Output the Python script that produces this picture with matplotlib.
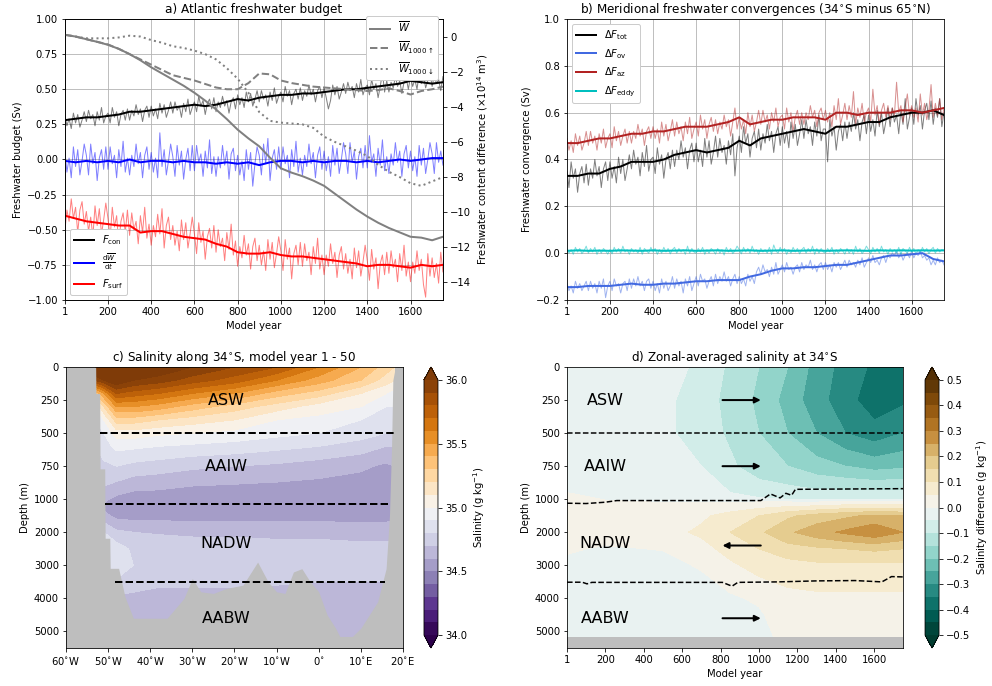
import numpy as np
import matplotlib
matplotlib.use('Agg')
import matplotlib.pyplot as plt

# ---------------- data ----------------
# panel a/b: raw annual-ish series (every 10 yr) and smoothed series (every 50 yr)
yr_raw = np.r_[1, np.arange(10, 1751, 10)]
yr_smooth = np.r_[1, np.arange(50, 1751, 50)]

F_con_raw = [0.31, 0.24, 0.29, 0.22, 0.33, 0.26, 0.32, 0.23, 0.28, 0.34,
             0.27, 0.35, 0.29, 0.32, 0.24, 0.34, 0.28, 0.37, 0.26, 0.31,
             0.33, 0.26, 0.37, 0.30, 0.34, 0.24, 0.32, 0.35, 0.28, 0.36,
             0.28, 0.35, 0.31, 0.39, 0.32, 0.36, 0.27, 0.35, 0.38, 0.30,
             0.38, 0.31, 0.36, 0.29, 0.40, 0.33, 0.39, 0.30, 0.35, 0.41,
             0.33, 0.41, 0.35, 0.38, 0.30, 0.40, 0.34, 0.43, 0.32, 0.37,
             0.41, 0.34, 0.45, 0.38, 0.42, 0.32, 0.40, 0.43, 0.36, 0.44,
             0.34, 0.41, 0.37, 0.45, 0.38, 0.42, 0.33, 0.41, 0.44, 0.36,
             0.46, 0.39, 0.44, 0.37, 0.48, 0.41, 0.47, 0.38, 0.43, 0.49,
             0.41, 0.49, 0.43, 0.46, 0.38, 0.48, 0.42, 0.51, 0.40, 0.45,
             0.48, 0.41, 0.52, 0.45, 0.49, 0.39, 0.47, 0.50, 0.43, 0.51,
             0.42, 0.49, 0.45, 0.53, 0.46, 0.50, 0.41, 0.49, 0.52, 0.44,
             0.51, 0.44, 0.36, 0.42, 0.53, 0.46, 0.52, 0.43, 0.48, 0.54,
             0.47, 0.55, 0.49, 0.52, 0.44, 0.54, 0.48, 0.57, 0.46, 0.51,
             0.53, 0.46, 0.57, 0.50, 0.54, 0.44, 0.52, 0.62, 0.48, 0.56,
             0.48, 0.55, 0.51, 0.59, 0.52, 0.56, 0.47, 0.55, 0.58, 0.50,
             0.59, 0.52, 0.57, 0.50, 0.61, 0.54, 0.60, 0.51, 0.56, 0.62,
             0.52, 0.60, 0.54, 0.57, 0.49, 0.59]
dWdt_raw = [0.05, -0.09, 0.01, -0.13, 0.09, -0.05, 0.07, -0.11, -0.01, 0.11,
            0.03, -0.11, 0.11, -0.03, 0.05, -0.15, 0.01, 0.07, -0.07, 0.09,
            -0.07, 0.09, -0.03, 0.03, -0.13, 0.07, -0.05, 0.13, -0.09, 0.01,
            -0.11, 0.03, -0.05, 0.11, -0.03, 0.05, -0.13, 0.03, 0.09, -0.07,
            0.05, -0.09, 0.01, -0.13, 0.19, -0.05, 0.07, -0.11, -0.01, 0.11,
            0.02, -0.12, 0.10, -0.04, 0.06, -0.14, 0.00, 0.08, -0.08, 0.10,
            -0.08, 0.10, -0.02, 0.04, -0.12, 0.06, -0.06, 0.14, -0.10, 0.02,
            -0.12, 0.02, -0.06, 0.10, -0.04, 0.06, -0.14, 0.04, 0.08, -0.08,
            0.03, -0.11, -0.01, -0.15, 0.07, -0.07, 0.05, -0.19, -0.03, 0.09,
            0.03, -0.11, 0.11, -0.03, 0.15, -0.15, 0.01, 0.07, -0.07, 0.09,
            -0.07, 0.09, -0.03, 0.03, -0.13, 0.07, -0.05, 0.13, -0.09, 0.01,
            -0.11, 0.03, -0.05, 0.11, -0.03, 0.05, -0.13, 0.03, 0.09, -0.07,
            0.06, -0.08, 0.02, -0.12, 0.10, -0.04, 0.08, -0.10, 0.00, 0.12,
            0.04, -0.10, 0.12, -0.02, 0.06, -0.14, 0.02, 0.08, -0.06, 0.10,
            -0.06, 0.17, -0.02, 0.04, -0.12, 0.08, -0.04, 0.14, -0.08, 0.02,
            -0.10, 0.04, -0.04, 0.12, -0.02, 0.06, -0.12, 0.04, 0.10, -0.06,
            0.06, -0.08, 0.02, -0.12, 0.10, -0.04, 0.08, -0.10, 0.00, 0.12,
            0.04, -0.10, 0.12, -0.02, 0.06, -0.04]
F_surf_raw = [-0.50, -0.36, -0.44, -0.28, -0.42, -0.34, -0.52, -0.36, -0.30, -0.46,
              -0.37, -0.51, -0.41, -0.55, -0.33, -0.47, -0.35, -0.53, -0.43, -0.31,
              -0.42, -0.56, -0.34, -0.48, -0.40, -0.60, -0.44, -0.38, -0.52, -0.36,
              -0.54, -0.38, -0.50, -0.44, -0.60, -0.40, -0.52, -0.34, -0.56, -0.46,
              -0.61, -0.47, -0.55, -0.39, -0.53, -0.35, -0.63, -0.47, -0.41, -0.57,
              -0.47, -0.61, -0.51, -0.65, -0.43, -0.57, -0.45, -0.63, -0.53, -0.41,
              -0.53, -0.67, -0.45, -0.59, -0.51, -0.71, -0.55, -0.49, -0.63, -0.47,
              -0.66, -0.50, -0.62, -0.56, -0.72, -0.52, -0.64, -0.46, -0.68, -0.58,
              -0.76, -0.62, -0.70, -0.54, -0.68, -0.60, -0.78, -0.62, -0.56, -0.72,
              -0.61, -0.75, -0.65, -0.79, -0.57, -0.71, -0.59, -0.77, -0.67, -0.55,
              -0.65, -0.79, -0.57, -0.71, -0.63, -0.85, -0.67, -0.61, -0.75, -0.59,
              -0.76, -0.60, -0.72, -0.66, -0.82, -0.62, -0.74, -0.56, -0.78, -0.68,
              -0.82, -0.68, -0.76, -0.60, -0.74, -0.66, -0.84, -0.68, -0.62, -0.78,
              -0.67, -0.81, -0.71, -0.85, -0.63, -0.77, -0.65, -0.83, -0.73, -0.61,
              -0.72, -0.86, -0.64, -0.78, -0.70, -0.92, -0.74, -0.68, -0.82, -0.66,
              -0.81, -0.65, -0.77, -0.71, -0.87, -0.67, -0.79, -0.61, -0.83, -0.73,
              -0.87, -0.73, -0.81, -0.65, -0.79, -0.71, -0.89, -0.98, -0.67, -0.83,
              -0.70, -0.84, -0.74, -0.88, -0.66, -0.80]

F_con = [0.28, 0.29, 0.30, 0.30, 0.31, 0.32, 0.34, 0.34, 0.35, 0.36, 0.37, 0.38,
         0.39, 0.38, 0.39, 0.41, 0.43, 0.42, 0.44, 0.45, 0.46, 0.46, 0.47, 0.47,
         0.48, 0.49, 0.50, 0.50, 0.51, 0.52, 0.53, 0.54, 0.56, 0.55, 0.54, 0.55]
dWdt = [-0.01, -0.02, -0.01, -0.02, -0.01, -0.02, 0.0, -0.02, -0.01, -0.01, -0.02, -0.01,
        -0.02, -0.02, -0.03, -0.02, -0.03, -0.02, -0.04, -0.02, -0.01, -0.01, -0.02, -0.01,
        -0.02, -0.01, -0.01, -0.02, -0.01, -0.02, -0.01, 0.0, -0.01, 0.0, 0.01, 0.01]
F_surf = [-0.40, -0.42, -0.44, -0.45, -0.46, -0.47, -0.47, -0.52, -0.51, -0.51, -0.53, -0.55,
          -0.56, -0.57, -0.60, -0.62, -0.66, -0.67, -0.67, -0.66, -0.68, -0.69, -0.69, -0.70,
          -0.71, -0.72, -0.73, -0.74, -0.76, -0.75, -0.75, -0.76, -0.77, -0.75, -0.76, -0.75]

W_tot = [0.1, 0.0, -0.15, -0.3, -0.47, -0.7, -1.0, -1.35, -1.75, -2.1, -2.45, -2.8,
         -3.2, -3.65, -4.15, -4.7, -5.3, -5.8, -6.25, -6.9, -7.5, -7.75, -7.95, -8.2,
         -8.5, -8.95, -9.4, -9.85, -10.25, -10.6, -10.9, -11.15, -11.4, -11.45, -11.6, -11.4]
W_up = [0.1, 0.0, -0.15, -0.3, -0.45, -0.7, -1.0, -1.3, -1.6, -1.9, -2.2, -2.35,
        -2.5, -2.7, -2.9, -3.0, -3.0, -2.65, -2.1, -2.15, -2.5, -2.65, -2.75, -2.85,
        -2.9, -2.95, -3.0, -3.05, -3.1, -3.05, -2.95, -3.1, -3.3, -3.1, -3.0, -2.85]
W_down = [0.1, 0.0, -0.1, -0.1, -0.1, -0.05, 0.05, 0.0, -0.2, -0.35, -0.55, -0.65,
          -0.8, -1.0, -1.3, -1.8, -2.4, -3.2, -4.3, -4.8, -4.9, -4.95, -5.0, -5.2,
          -5.7, -6.0, -6.25, -6.5, -6.8, -7.3, -7.7, -8.0, -8.35, -8.5, -8.25, -8.0]

tot_raw = [0.35, 0.28, 0.39, 0.32, 0.36, 0.26, 0.34, 0.37, 0.30, 0.38,
           0.29, 0.36, 0.32, 0.40, 0.33, 0.37, 0.28, 0.36, 0.39, 0.31,
           0.39, 0.32, 0.37, 0.30, 0.41, 0.34, 0.40, 0.31, 0.36, 0.42,
           0.36, 0.44, 0.38, 0.41, 0.33, 0.43, 0.37, 0.46, 0.35, 0.40,
           0.41, 0.34, 0.45, 0.38, 0.42, 0.32, 0.40, 0.43, 0.36, 0.44,
           0.37, 0.44, 0.40, 0.48, 0.41, 0.45, 0.36, 0.44, 0.47, 0.39,
           0.47, 0.39, 0.44, 0.37, 0.49, 0.41, 0.48, 0.38, 0.43, 0.50,
           0.41, 0.49, 0.43, 0.46, 0.38, 0.48, 0.42, 0.51, 0.33, 0.45,
           0.50, 0.43, 0.54, 0.47, 0.51, 0.41, 0.49, 0.52, 0.45, 0.53,
           0.44, 0.51, 0.47, 0.55, 0.48, 0.52, 0.43, 0.51, 0.54, 0.46,
           0.54, 0.47, 0.52, 0.45, 0.56, 0.49, 0.55, 0.46, 0.51, 0.57,
           0.49, 0.57, 0.51, 0.54, 0.46, 0.56, 0.50, 0.59, 0.48, 0.53,
           0.53, 0.39, 0.57, 0.50, 0.54, 0.44, 0.52, 0.55, 0.48, 0.56,
           0.49, 0.56, 0.52, 0.60, 0.53, 0.57, 0.48, 0.56, 0.59, 0.51,
           0.59, 0.52, 0.57, 0.50, 0.61, 0.54, 0.60, 0.51, 0.56, 0.62,
           0.54, 0.62, 0.56, 0.59, 0.51, 0.61, 0.55, 0.66, 0.53, 0.58,
           0.62, 0.55, 0.66, 0.59, 0.63, 0.53, 0.61, 0.64, 0.57, 0.65,
           0.55, 0.62, 0.58, 0.66, 0.54, 0.60]
az_raw = [0.49, 0.44, 0.48, 0.43, 0.51, 0.46, 0.50, 0.44, 0.47, 0.52,
          0.46, 0.52, 0.47, 0.50, 0.44, 0.51, 0.47, 0.53, 0.45, 0.49,
          0.51, 0.45, 0.54, 0.48, 0.52, 0.46, 0.50, 0.53, 0.47, 0.52,
          0.47, 0.52, 0.49, 0.55, 0.50, 0.53, 0.46, 0.52, 0.54, 0.49,
          0.54, 0.49, 0.53, 0.47, 0.56, 0.50, 0.55, 0.48, 0.52, 0.57,
          0.50, 0.56, 0.51, 0.54, 0.48, 0.56, 0.51, 0.58, 0.49, 0.53,
          0.56, 0.50, 0.59, 0.53, 0.57, 0.49, 0.55, 0.58, 0.52, 0.57,
          0.51, 0.56, 0.53, 0.59, 0.54, 0.57, 0.50, 0.56, 0.62, 0.53,
          0.58, 0.53, 0.57, 0.51, 0.60, 0.54, 0.59, 0.52, 0.56, 0.61,
          0.55, 0.61, 0.56, 0.59, 0.53, 0.60, 0.56, 0.62, 0.54, 0.58,
          0.59, 0.53, 0.62, 0.56, 0.60, 0.52, 0.58, 0.61, 0.55, 0.60,
          0.55, 0.60, 0.57, 0.63, 0.58, 0.61, 0.54, 0.60, 0.62, 0.57,
          0.61, 0.56, 0.60, 0.54, 0.63, 0.57, 0.66, 0.55, 0.59, 0.64,
          0.57, 0.63, 0.58, 0.69, 0.55, 0.62, 0.58, 0.64, 0.56, 0.60,
          0.62, 0.56, 0.70, 0.59, 0.63, 0.55, 0.61, 0.64, 0.58, 0.63,
          0.57, 0.62, 0.59, 0.73, 0.60, 0.63, 0.56, 0.62, 0.68, 0.59,
          0.63, 0.58, 0.62, 0.56, 0.68, 0.59, 0.64, 0.57, 0.61, 0.72,
          0.58, 0.64, 0.59, 0.66, 0.57, 0.62]
ov_raw = [-0.13, -0.16, -0.14, -0.17, -0.12, -0.15, -0.13, -0.16, -0.14, -0.12,
          -0.16, -0.12, -0.15, -0.13, -0.17, -0.12, -0.15, -0.11, -0.19, -0.14,
          -0.12, -0.16, -0.11, -0.14, -0.13, -0.17, -0.13, -0.12, -0.16, -0.11,
          -0.15, -0.11, -0.14, -0.10, -0.14, -0.12, -0.16, -0.12, -0.11, -0.15,
          -0.12, -0.16, -0.13, -0.17, -0.11, -0.15, -0.12, -0.16, -0.14, -0.10,
          -0.15, -0.11, -0.14, -0.12, -0.17, -0.11, -0.14, -0.10, -0.16, -0.13,
          -0.10, -0.14, -0.09, -0.12, -0.11, -0.15, -0.12, -0.10, -0.14, -0.09,
          -0.13, -0.10, -0.12, -0.08, -0.12, -0.10, -0.14, -0.11, -0.09, -0.13,
          -0.10, -0.13, -0.11, -0.14, -0.09, -0.12, -0.10, -0.13, -0.08, -0.06,
          -0.09, -0.05, -0.08, -0.07, -0.10, -0.06, -0.09, -0.04, -0.09, -0.07,
          -0.05, -0.08, -0.04, -0.07, -0.06, -0.09, -0.06, -0.05, -0.08, -0.04,
          -0.07, -0.05, -0.06, -0.03, -0.07, -0.05, -0.08, -0.05, -0.04, -0.07,
          -0.04, -0.07, -0.05, -0.08, -0.04, -0.06, -0.04, -0.07, -0.05, -0.03,
          -0.06, -0.03, -0.05, -0.04, -0.06, -0.03, -0.05, -0.02, -0.06, -0.04,
          -0.02, -0.04, -0.01, -0.04, -0.03, -0.05, -0.02, -0.01, -0.04, -0.01,
          -0.02, 0.00, -0.01, 0.01, -0.02, 0.00, -0.03, -0.01, 0.00, -0.02,
          0.01, -0.02, 0.00, -0.01, 0.01, -0.02, -0.01, -0.03, -0.02, -0.05,
          -0.03, -0.05, -0.02, -0.04, -0.03, -0.05]
eddy_raw = [0.02, 0.0, 0.015, -0.005, 0.025, 0.005, 0.02, -0.002, 0.01, 0.03,
            0.0, 0.02, 0.005, 0.025, -0.005, 0.015, 0.0, 0.02, 0.01, -0.004,
            0.015, -0.003, 0.025, 0.005, 0.02, 0.0, 0.03, 0.005, 0.015, -0.005,
            0.02, 0.005, 0.015, 0.0, 0.025, -0.005, 0.02, 0.01, 0.0, 0.025,
            0.005, 0.02, -0.005, 0.015, 0.0, 0.025, 0.005, 0.02, -0.003, 0.015,
            0.025, 0.0, 0.02, 0.005, 0.015, -0.005, 0.03, 0.0, 0.02, 0.005,
            0.0, 0.02, 0.005, 0.025, -0.005, 0.015, 0.0, 0.02, 0.01, -0.004,
            0.02, 0.0, 0.015, -0.008, 0.025, 0.005, 0.02, -0.002, 0.01, 0.03,
            0.015, -0.003, 0.025, 0.005, 0.02, 0.0, 0.03, 0.005, 0.015, -0.005,
            0.02, 0.005, 0.015, 0.0, 0.025, -0.005, 0.035, 0.01, 0.0, 0.025,
            0.005, 0.02, -0.005, 0.015, 0.0, 0.025, 0.005, 0.02, -0.003, 0.015,
            0.025, 0.0, 0.02, 0.005, 0.03, -0.005, 0.02, 0.0, 0.02, 0.005,
            0.0, 0.02, 0.005, 0.025, -0.005, 0.015, 0.0, 0.02, 0.01, -0.004,
            0.02, 0.0, 0.015, -0.005, 0.03, 0.005, 0.02, -0.002, 0.01, 0.03,
            0.015, -0.003, 0.025, 0.005, 0.02, 0.0, 0.03, 0.005, 0.015, -0.005,
            0.02, 0.005, 0.015, 0.0, 0.025, -0.005, 0.02, 0.01, 0.0, 0.025,
            0.005, 0.02, -0.005, 0.015, 0.0, 0.025, 0.005, 0.02, -0.003, 0.015,
            0.025, 0.0, 0.02, 0.005, 0.015, 0.01]

tot = [0.33, 0.33, 0.34, 0.34, 0.36, 0.37, 0.39, 0.39, 0.39, 0.40, 0.42, 0.43,
       0.44, 0.43, 0.44, 0.45, 0.48, 0.46, 0.49, 0.50, 0.51, 0.52, 0.53, 0.52,
       0.51, 0.54, 0.54, 0.55, 0.56, 0.56, 0.58, 0.59, 0.60, 0.60, 0.61, 0.59]
az = [0.47, 0.47, 0.48, 0.49, 0.49, 0.50, 0.51, 0.51, 0.52, 0.52, 0.53, 0.54,
      0.54, 0.54, 0.55, 0.56, 0.58, 0.55, 0.56, 0.57, 0.57, 0.58, 0.58, 0.58,
      0.57, 0.60, 0.60, 0.59, 0.60, 0.60, 0.60, 0.61, 0.61, 0.60, 0.61, 0.62]
ov = [-0.145, -0.145, -0.14, -0.14, -0.14, -0.135, -0.13, -0.135, -0.135, -0.13, -0.13, -0.125,
      -0.12, -0.12, -0.115, -0.115, -0.115, -0.10, -0.09, -0.075, -0.065, -0.065, -0.06, -0.06,
      -0.055, -0.05, -0.05, -0.04, -0.03, -0.02, -0.01, -0.01, -0.005, 0.0, -0.025, -0.035]
eddy = [0.01, 0.012, 0.01, 0.011, 0.01, 0.012, 0.011, 0.01, 0.012, 0.01, 0.011, 0.012,
        0.01, 0.011, 0.012, 0.01, 0.011, 0.012, 0.01, 0.011, 0.012, 0.01, 0.011, 0.012,
        0.01, 0.011, 0.012, 0.011, 0.01, 0.012, 0.011, 0.012, 0.011, 0.012, 0.011, 0.012]

# panel c: salinity section at 34S (g/kg), rows = depth, cols = lon
lon_c = [-53, -51, -48, -44, -38, -30, -20, -10, 0, 10, 16, 18]
depth_c = [0, 100, 200, 300, 400, 500, 600, 750, 900, 1000, 1250, 1500,
           2000, 2500, 3000, 3500, 4000, 5000, 5500]
salt_c = [
    [36.2, 36.2, 36.2, 36.2, 36.1, 36.0, 35.9, 35.8, 35.6, 35.4, 35.25, 35.2],
    [35.9, 36.0, 36.1, 36.0, 35.95, 35.85, 35.75, 35.6, 35.45, 35.3, 35.15, 35.1],
    [35.3, 35.5, 35.8, 35.75, 35.7, 35.6, 35.5, 35.35, 35.25, 35.1, 35.0, 34.95],
    [35.0, 35.2, 35.5, 35.5, 35.45, 35.35, 35.25, 35.15, 35.05, 35.0, 34.9, 34.9],
    [34.9, 35.0, 35.25, 35.25, 35.2, 35.15, 35.1, 35.0, 34.97, 34.9, 34.85, 34.85],
    [34.85, 34.9, 35.05, 35.05, 35.02, 35.0, 34.97, 34.93, 34.9, 34.85, 34.8, 34.8],
    [34.8, 34.85, 34.93, 34.92, 34.9, 34.88, 34.86, 34.83, 34.8, 34.75, 34.7, 34.7],
    [34.75, 34.78, 34.8, 34.77, 34.75, 34.72, 34.7, 34.68, 34.65, 34.62, 34.58, 34.6],
    [34.68, 34.7, 34.67, 34.63, 34.62, 34.6, 34.59, 34.58, 34.57, 34.55, 34.53, 34.55],
    [34.62, 34.62, 34.57, 34.55, 34.55, 34.55, 34.54, 34.54, 34.53, 34.52, 34.52, 34.55],
    [34.6, 34.58, 34.52, 34.52, 34.52, 34.52, 34.52, 34.52, 34.52, 34.52, 34.52, 34.55],
    [34.65, 34.63, 34.57, 34.56, 34.56, 34.56, 34.56, 34.56, 34.56, 34.56, 34.56, 34.58],
    [34.8, 34.8, 34.72, 34.7, 34.69, 34.68, 34.68, 34.67, 34.67, 34.66, 34.66, 34.66],
    [34.9, 34.9, 34.85, 34.78, 34.76, 34.75, 34.75, 34.74, 34.74, 34.73, 34.73, 34.73],
    [34.9, 34.9, 34.88, 34.8, 34.77, 34.76, 34.76, 34.75, 34.75, 34.74, 34.74, 34.74],
    [34.8, 34.8, 34.78, 34.75, 34.72, 34.72, 34.72, 34.71, 34.7, 34.7, 34.7, 34.7],
    [34.7, 34.7, 34.68, 34.67, 34.66, 34.66, 34.66, 34.66, 34.66, 34.66, 34.66, 34.66],
    [34.65, 34.65, 34.64, 34.64, 34.64, 34.64, 34.64, 34.64, 34.64, 34.64, 34.64, 34.64],
    [34.65, 34.65, 34.64, 34.64, 34.64, 34.64, 34.64, 34.64, 34.64, 34.64, 34.64, 34.64],
]
# ocean bottom along 34S
bathy_lon = [-60, -52.95, -52.9, -52.0, -51.9, -50.8, -50.7, -49.6, -49.5, -47.5, -46, -44,
             -36, -34, -32, -30, -28, -25, -22, -20, -18, -14.5, -12, -10, -8, -6,
             -4, -2, 0, 2, 4, 5, 8, 10, 12, 14, 15, 16, 16.8, 17.3, 17.6, 18.2, 20]
bathy_depth = [0, 0, 200, 200, 770, 770, 2180, 2180, 3090, 3090, 3950, 4600,
               4600, 4300, 4000, 3400, 3800, 3850, 3700, 3650, 3600, 2900, 3500, 3800, 3850, 3200,
               3100, 3500, 3800, 4500, 4900, 5150, 5150, 4900, 4500, 4100, 3600, 3100, 1500, 600, 100, 0, 0]

# panel d: zonal-mean salinity difference (g/kg), rows = depth, cols = year
year_d = [1, 200, 500, 700, 850, 1000, 1150, 1300, 1450, 1600, 1750]
depth_d = [0, 250, 500, 750, 950, 1100, 1500, 2000, 2500, 3000, 3500, 4000, 4500, 5140]
dsalt_d = [
    [0.0, -0.01, -0.03, -0.06, -0.11, -0.15, -0.20, -0.27, -0.32, -0.36, -0.35],
    [0.0, -0.01, -0.04, -0.07, -0.12, -0.16, -0.22, -0.28, -0.33, -0.38, -0.36],
    [0.0, -0.01, -0.04, -0.07, -0.11, -0.15, -0.20, -0.25, -0.30, -0.33, -0.30],
    [0.0, -0.01, -0.03, -0.05, -0.09, -0.13, -0.15, -0.18, -0.20, -0.22, -0.21],
    [0.0, -0.01, -0.02, -0.03, -0.05, -0.07, -0.08, -0.09, -0.09, -0.09, -0.09],
    [0.01, 0.01, 0.0, 0.0, 0.0, 0.01, 0.01, 0.01, 0.02, 0.02, 0.02],
    [0.02, 0.03, 0.03, 0.04, 0.07, 0.10, 0.14, 0.17, 0.19, 0.21, 0.20],
    [0.02, 0.02, 0.03, 0.06, 0.10, 0.14, 0.19, 0.23, 0.26, 0.29, 0.25],
    [0.005, -0.005, 0.002, 0.03, 0.07, 0.10, 0.13, 0.14, 0.15, 0.16, 0.15],
    [-0.01, -0.015, -0.015, 0.005, 0.04, 0.07, 0.08, 0.09, 0.09, 0.09, 0.09],
    [-0.01, -0.02, -0.02, -0.01, 0.01, 0.04, 0.06, 0.07, 0.07, 0.07, 0.07],
    [-0.01, -0.02, -0.02, -0.02, -0.005, 0.005, 0.03, 0.035, 0.035, 0.035, 0.035],
    [-0.01, -0.02, -0.02, -0.02, -0.015, -0.005, 0.02, 0.03, 0.03, 0.03, 0.03],
    [-0.01, -0.02, -0.02, -0.02, -0.02, -0.01, 0.01, 0.02, 0.02, 0.02, 0.02],
]
# water-mass boundaries in panel d
bnd_upper_yr = [1, 100, 150, 200, 260, 1010, 1060, 1110, 1140, 1170, 1190, 1750]
bnd_upper_depth = [1120, 1130, 1110, 1090, 1040, 1040, 960, 990, 955, 970, 925, 920]
bnd_lower_yr = [1, 80, 105, 130, 810, 860, 890, 1100, 1300, 1500, 1640, 1690, 1750]
bnd_lower_depth = [3510, 3510, 3560, 3515, 3515, 3630, 3515, 3500, 3470, 3460, 3500, 3340, 3350]


def depth_fwd(d):
    d = np.asarray(d, dtype=float)
    return np.where(d <= 1000, d / 250.0, 4 + (d - 1000) / 1000.0)


def depth_inv(y):
    y = np.asarray(y, dtype=float)
    return np.where(y <= 4, y * 250.0, 1000 + (y - 4) * 1000.0)


depth_ticks = [0, 250, 500, 750, 1000, 2000, 3000, 4000, 5000]
year_ticks = [1, 200, 400, 600, 800, 1000, 1200, 1400, 1600]
land = '#bebebe'

fig = plt.figure(figsize=(992 / 72, 686 / 72))

# ---------------- a) Atlantic freshwater budget ----------------
ax = fig.add_axes([0.0655, 0.5627, 0.381, 0.4096])
ax.plot(yr_raw, F_con_raw, color='k', alpha=0.5, lw=1)
ax.plot(yr_raw, dWdt_raw, color='b', alpha=0.5, lw=1)
ax.plot(yr_raw, F_surf_raw, color='r', alpha=0.5, lw=1)
ax.plot(yr_smooth, F_con, color='k', lw=2, label=r'$F_{\mathrm{con}}$')
ax.plot(yr_smooth, dWdt, color='b', lw=2, label=r'$\frac{\mathrm{d}\overline{W}}{\mathrm{d}t}$')
ax.plot(yr_smooth, F_surf, color='r', lw=2, label=r'$F_{\mathrm{surf}}$')
ax.set_xlim(1, 1750)
ax.set_ylim(-1, 1)
ax.set_xticks(year_ticks)
ax.grid(True)
ax.set_xlabel('Model year')
ax.set_ylabel('Freshwater budget (Sv)')
ax.set_title('a) Atlantic freshwater budget')
ax.legend(loc='lower left', framealpha=1)

ax2 = ax.twinx()
ax2.plot(yr_smooth, W_tot, color='gray', lw=2, label=r'$\overline{W}$')
ax2.plot(yr_smooth, W_up, color='gray', lw=2, ls='--', label=r'$\overline{W}_{1000\uparrow}$')
ax2.plot(yr_smooth, W_down, color='gray', lw=2, ls=':', label=r'$\overline{W}_{1000\downarrow}$')
ax2.set_ylim(-15, 1)
ax2.set_yticks([0, -2, -4, -6, -8, -10, -12, -14])
ax2.set_ylabel(r'Freshwater content difference ($\times 10^{14}$ m$^3$)')
ax2.legend(loc='upper right', bbox_to_anchor=(1.0, 1.03), framealpha=1)

# ---------------- b) Meridional freshwater convergences ----------------
ax = fig.add_axes([0.5716, 0.5627, 0.38, 0.4096])
ax.plot(yr_raw, tot_raw, color='k', alpha=0.5, lw=1)
ax.plot(yr_raw, ov_raw, color='royalblue', alpha=0.5, lw=1)
ax.plot(yr_raw, az_raw, color='firebrick', alpha=0.5, lw=1)
ax.plot(yr_raw, eddy_raw, color='c', alpha=0.5, lw=1)
ax.plot(yr_smooth, tot, color='k', lw=2, label=r'$\Delta F_{\mathrm{tot}}$')
ax.plot(yr_smooth, ov, color='royalblue', lw=2, label=r'$\Delta F_{\mathrm{ov}}$')
ax.plot(yr_smooth, az, color='firebrick', lw=2, label=r'$\Delta F_{\mathrm{az}}$')
ax.plot(yr_smooth, eddy, color='c', lw=2, label=r'$\Delta F_{\mathrm{eddy}}$')
ax.set_xlim(1, 1750)
ax.set_ylim(-0.2, 1.0)
ax.set_xticks(year_ticks)
ax.grid(True)
ax.set_xlabel('Model year')
ax.set_ylabel('Freshwater convergence (Sv)')
ax.set_title(r'b) Meridional freshwater convergences (34$^{\circ}$S minus 65$^{\circ}$N)')
ax.legend(loc='upper left', framealpha=1)

# ---------------- c) Salinity along 34S ----------------
ax = fig.add_axes([0.0665, 0.0554, 0.3397, 0.4096])
ax.set_facecolor(land)
ax.set_yscale('function', functions=(depth_fwd, depth_inv))
cs = ax.contourf(lon_c, depth_c, salt_c, levels=np.arange(34.0, 36.01, 0.1),
                 cmap='PuOr_r', extend='both')
ax.fill_between(bathy_lon, bathy_depth, 5500, color=land, lw=0)
ax.plot([-52, 18], [500, 500], 'k--', lw=2)
ax.plot([-50.8, 17], [1150, 1150], 'k--', lw=2)
ax.plot([-48.4, 15.8], [3500, 3500], 'k--', lw=2)
for name, d in [('ASW', 250), ('AAIW', 750), ('NADW', 2350), ('AABW', 4600)]:
    ax.text(-22, d, name, fontsize=16, ha='center', va='center')
ax.set_xlim(-60, 20)
ax.set_ylim(5500, 0)
ax.set_yticks(depth_ticks)
ax.set_xticks([-60, -50, -40, -30, -20, -10, 0, 10, 20])
ax.set_xticklabels(['60$^{\\circ}$W', '50$^{\\circ}$W', '40$^{\\circ}$W', '30$^{\\circ}$W',
                    '20$^{\\circ}$W', '10$^{\\circ}$W', '0$^{\\circ}$', '10$^{\\circ}$E',
                    '20$^{\\circ}$E'])
ax.set_ylabel('Depth (m)')
ax.set_title('c) Salinity along 34$^{\\circ}$S, model year 1 - 50')
cax = fig.add_axes([0.4274, 0.0554, 0.0141, 0.4096])
cb = fig.colorbar(cs, cax=cax, ticks=[34.0, 34.5, 35.0, 35.5, 36.0])
cb.set_label('Salinity (g kg$^{-1}$)')

# ---------------- d) Zonal-averaged salinity ----------------
ax = fig.add_axes([0.5716, 0.0554, 0.3387, 0.4096])
ax.set_facecolor(land)
ax.set_yscale('function', functions=(depth_fwd, depth_inv))
cs = ax.contourf(year_d, depth_d, dsalt_d, levels=np.arange(-0.5, 0.501, 0.05),
                 cmap='BrBG_r', extend='both')
ax.plot([1, 1750], [500, 500], 'k--', lw=1.5)
ax.plot(bnd_upper_yr, bnd_upper_depth, 'k--', lw=1.5)
ax.plot(bnd_lower_yr, bnd_lower_depth, 'k--', lw=1.5)
for name, d, right in [('ASW', 250, True), ('AAIW', 750, True),
                       ('NADW', 2350, False), ('AABW', 4600, True)]:
    ax.text(200, d, name, fontsize=16, ha='center', va='center')
    if right:
        ax.annotate('', xy=(1020, d), xytext=(800, d),
                    arrowprops=dict(arrowstyle='-|>', lw=2, color='k', mutation_scale=12))
    else:
        ax.annotate('', xy=(800, d + 50), xytext=(1020, d + 50),
                    arrowprops=dict(arrowstyle='-|>', lw=2, color='k', mutation_scale=12))
ax.set_xlim(1, 1750)
ax.set_ylim(5500, 0)
ax.set_yticks(depth_ticks)
ax.set_xticks(year_ticks)
ax.set_xlabel('Model year')
ax.set_ylabel('Depth (m)')
ax.set_title('d) Zonal-averaged salinity at 34$^{\\circ}$S')
cax = fig.add_axes([0.9325, 0.0554, 0.0141, 0.4096])
cb = fig.colorbar(cs, cax=cax, ticks=np.arange(-0.5, 0.501, 0.1))
cb.set_label('Salinity difference (g kg$^{-1}$)')

fig.savefig('out.png', dpi=72)
